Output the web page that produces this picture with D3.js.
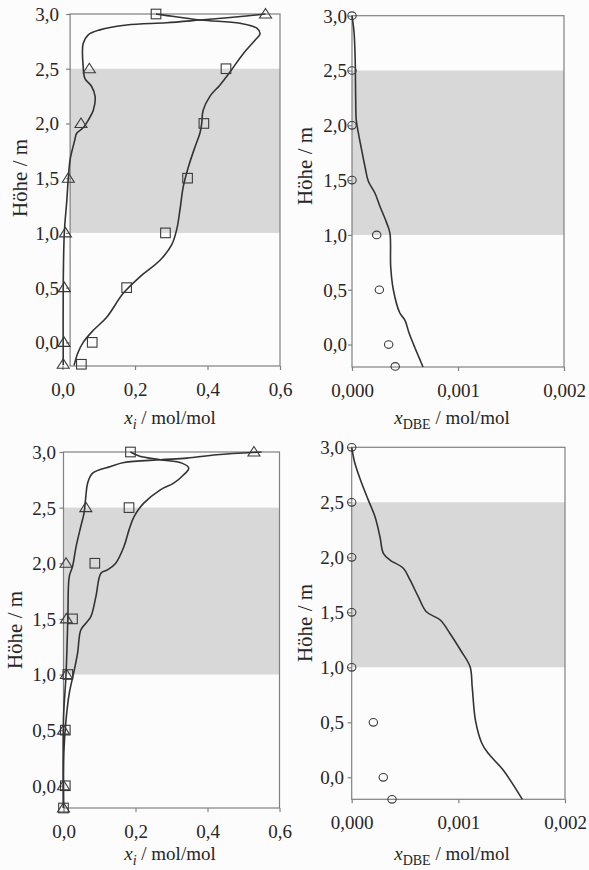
<!DOCTYPE html>
<html><head><meta charset="utf-8">
<script src="https://cdn.jsdelivr.net/npm/d3@7"></script>
<style>
html,body{margin:0;padding:0;background:#fcfcfc;}
svg{display:block;font-family:"Liberation Serif","Tinos","Times New Roman","DejaVu Serif",serif;}
svg text{font-family:"Liberation Serif","Tinos","Times New Roman","DejaVu Serif",serif;}
</style></head><body>
<svg id="chart" width="589" height="870"></svg>
<script>
// ---------- data ----------
const heights = [3.0, 2.5, 2.0, 1.5, 1.0, 0.5, 0.0, -0.2];
const yTickValues = [0, 0.5, 1, 1.5, 2, 2.5, 3];
const yTickLabels = ["0,0", "0,5", "1,0", "1,5", "2,0", "2,5", "3,0"];
const xTickValuesI = [0, 0.2, 0.4, 0.6];
const xTickLabelsI = ["0,0", "0,2", "0,4", "0,6"];
const xTickValuesDBE = [0, 0.001, 0.002];
const xTickLabelsDBE = ["0,000", "0,001", "0,002"];
const reactiveZone = [1.0, 2.5];
const yTitle = "Höhe / m";

// top-left panel
const p1Squares = [0.258, 0.451, 0.390, 0.345, 0.284, 0.177, 0.082, 0.052];
const p1Triangles = [0.560, 0.074, 0.051, 0.016, 0.008, 0.005, 0.004, 0.002];
const p1CurveA = [[0.032,-0.21],[0.042,-0.10],[0.057,0.0],[0.085,0.11],[0.122,0.23],[0.168,0.45],[0.214,0.60],[0.269,0.75],[0.301,0.89],[0.315,1.03],[0.324,1.21],[0.333,1.42],[0.347,1.60],[0.366,1.79],[0.379,1.91],[0.384,2.00],[0.388,2.12],[0.407,2.25],[0.434,2.35],[0.462,2.47],[0.499,2.64],[0.531,2.76],[0.545,2.82],[0.536,2.87],[0.490,2.915],[0.380,2.945],[0.280,2.99],[0.258,3.0]];
const p1CurveB = [[0.002,-0.21],[0.002,0.5],[0.005,1.0],[0.012,1.30],[0.016,1.50],[0.021,1.67],[0.034,1.85],[0.039,1.91],[0.057,1.96],[0.071,2.03],[0.085,2.12],[0.090,2.245],[0.080,2.34],[0.062,2.41],[0.057,2.52],[0.057,2.73],[0.071,2.81],[0.103,2.855],[0.177,2.90],[0.287,2.92],[0.380,2.945],[0.470,2.97],[0.560,3.0]];

// top-right panel
const p2Circles = [0, 0, 0, 0, 0.000233, 0.000258, 0.000346, 0.000408];
const p2Curve = [[0.00067,-0.205],[0.00054,0.10],[0.00050,0.22],[0.00045,0.29],[0.00039,0.50],[0.000365,0.71],[0.000358,1.015],[0.000327,1.11],[0.000264,1.26],[0.000217,1.38],[0.000154,1.49],[0.000123,1.62],[0.00009,1.78],[0.00006,1.93],[0.00004,2.05],[0.000035,2.23],[0.00003,2.60],[0.00002,2.84],[0,3.0]];

// bottom-left panel
const p3Squares = [0.186, 0.182, 0.087, 0.025, 0.012, 0.005, 0.005, 0.0];
const p3Triangles = [0.529, 0.062, 0.007, 0.008, 0.008, 0.0, 0.0, 0.0];
const p3CurveA = [[0.0,-0.2],[0.001,0.3],[0.007,0.59],[0.016,0.83],[0.028,1.01],[0.039,1.19],[0.048,1.40],[0.062,1.46],[0.076,1.52],[0.090,1.70],[0.104,1.91],[0.122,1.94],[0.145,2.00],[0.168,2.15],[0.182,2.30],[0.196,2.42],[0.223,2.54],[0.269,2.66],[0.306,2.72],[0.334,2.795],[0.348,2.855],[0.329,2.90],[0.269,2.93],[0.210,2.965],[0.186,3.0]];
const p3CurveB = [[0.0,-0.2],[0.0,0.6],[0.007,1.0],[0.012,1.49],[0.016,1.88],[0.025,1.97],[0.035,2.15],[0.048,2.33],[0.057,2.45],[0.062,2.60],[0.067,2.72],[0.081,2.81],[0.131,2.87],[0.168,2.905],[0.269,2.93],[0.343,2.945],[0.426,2.975],[0.550,3.0]];

// bottom-right panel
const p4Circles = [0, 0, 0, 0, 0, 0.000203, 0.000296, 0.000378];
const p4Curve = [[0.0016,-0.2],[0.00142,0.066],[0.00128,0.218],[0.00122,0.31],[0.00116,0.52],[0.00113,0.82],[0.00111,1.005],[0.00102,1.157],[0.00092,1.31],[0.00083,1.43],[0.00070,1.505],[0.000625,1.64],[0.000547,1.794],[0.000484,1.90],[0.000359,1.975],[0.000297,2.036],[0.000265,2.187],[0.000218,2.37],[0.000156,2.52],[0.000094,2.673],[0.00003,2.855],[0,3.0]];

// ---------- layout ----------
const FONT = '"Liberation Serif","Tinos","Times New Roman","DejaVu Serif",serif';
const TXT = "#262626";
const FRAME = "#808080";
const INK = "#333";
const BAND = "#d8d8d8";

const panels = [
  {xDom:[0,0.6], xRng:[62.5,280], frameL:0.021, yDom:[-0.216,3], yRng:[366,14],
   xt:xTickValuesI, xl:xTickLabelsI, ylPad:7, kind:"i",
   curves:[p1CurveA,p1CurveB], squares:p1Squares, triangles:p1Triangles,
   yTitle:[26.5,178], xTitle:[170,424]},
  {xDom:[0,0.002], xRng:[352,564], frameL:0, yDom:[-0.205,3], yRng:[367,15.7],
   xt:xTickValuesDBE, xl:xTickLabelsDBE, ylPad:1, kind:"dbe",
   curves:[p2Curve], circles:p2Circles,
   yTitle:[312,166], xTitle:[452,424]},
  {xDom:[0,0.6], xRng:[63.5,279.5], frameL:0, yDom:[-0.2,3], yRng:[808,452],
   xt:xTickValuesI, xl:xTickLabelsI, ylPad:3.5, kind:"i",
   curves:[p3CurveA,p3CurveB], squares:p3Squares, triangles:p3Triangles,
   yTitle:[22,630], xTitle:[170,860]},
  {xDom:[0,0.002], xRng:[351.7,565], frameL:0, yDom:[-0.2,3], yRng:[799.3,447.3],
   xt:xTickValuesDBE, xl:xTickLabelsDBE, ylPad:3.7, kind:"dbe",
   curves:[p4Curve], circles:p4Circles,
   yTitle:[312,623], xTitle:[452,860]}
];

const svg = d3.select("#chart");
svg.append("rect").attr("width",589).attr("height",870).attr("fill","#fcfcfc");

panels.forEach(p => {
  const x = d3.scaleLinear().domain(p.xDom).range(p.xRng);
  const y = d3.scaleLinear().domain(p.yDom).range(p.yRng);
  const g = svg.append("g");
  const left = x(p.frameL), right = x(p.xDom[1]);
  const top = y(3), bottom = y(p.yDom[0]);

  g.append("rect")
    .attr("x", left).attr("y", y(reactiveZone[1]))
    .attr("width", right-left).attr("height", y(reactiveZone[0]) - y(reactiveZone[1]))
    .attr("fill", BAND);

  g.append("rect")
    .attr("x", left).attr("y", top).attr("width", right-left).attr("height", bottom-top)
    .attr("fill","none").attr("stroke",FRAME).attr("stroke-width",1.2);

  const ya = g.append("g").attr("transform",`translate(${left},0)`)
    .call(d3.axisLeft(y).tickValues(yTickValues)
      .tickFormat((d,i)=>yTickLabels[i]).tickSizeInner(4).tickSizeOuter(0).tickPadding(p.ylPad));
  const xa = g.append("g").attr("transform",`translate(0,${bottom})`)
    .call(d3.axisBottom(x).tickValues(p.xt)
      .tickFormat((d,i)=>p.xl[i]).tickSizeInner(4).tickSizeOuter(0).tickPadding(6));
  [ya,xa].forEach(a=>{
    a.attr("font-family",FONT).attr("font-size",19);
    a.select(".domain").remove();
    a.selectAll("line").attr("stroke",FRAME).attr("stroke-width",1.2);
    a.selectAll("text").attr("fill",TXT).attr("font-family",FONT).attr("font-size",19);
  });
  ya.selectAll("text").attr("dy","0.34em");
  xa.selectAll("text").attr("dy",null).attr("y",30);

  const line = d3.line().x(d=>x(d[0])).y(d=>y(d[1])).curve(d3.curveCatmullRom.alpha(0.5));
  p.curves.forEach(c=>{
    g.append("path").attr("d",line(c)).attr("fill","none")
      .attr("stroke",INK).attr("stroke-width",1.6).attr("stroke-linejoin","round");
  });

  if (p.squares) {
    g.selectAll(null).data(p.squares).enter().append("rect")
      .attr("x",(d,i)=>x(d)-4.8).attr("y",(d,i)=>y(heights[i])-4.8)
      .attr("width",9.6).attr("height",9.6)
      .attr("fill","none").attr("stroke","#3a3a3a").attr("stroke-width",1.1);
  }
  if (p.triangles) {
    g.selectAll(null).data(p.triangles).enter().append("path")
      .attr("d",(d,i)=>{const cx=x(d), cy=y(heights[i]);
        return `M${cx},${cy-5.5}L${cx+6},${cy+4}L${cx-6},${cy+4}Z`;})
      .attr("fill","none").attr("stroke","#3a3a3a").attr("stroke-width",1.1);
  }
  if (p.circles) {
    g.selectAll(null).data(p.circles).enter().append("ellipse")
      .attr("cx",d=>x(d)).attr("cy",(d,i)=>y(heights[i]))
      .attr("rx",4.2).attr("ry",3.8)
      .attr("fill","none").attr("stroke","#3a3a3a").attr("stroke-width",1.1);
  }

  svg.append("text")
    .attr("transform",`translate(${p.yTitle[0]},${p.yTitle[1]}) rotate(-90)`)
    .attr("text-anchor","middle").attr("fill",TXT)
    .attr("font-family",FONT).attr("font-size",21).text(yTitle);

  const t = svg.append("text").attr("x",p.xTitle[0]).attr("y",p.xTitle[1])
    .attr("text-anchor","middle").attr("fill",TXT)
    .attr("font-family",FONT).attr("font-size",19);
  t.append("tspan").attr("font-style","italic").text("x");
  if (p.kind==="i") {
    t.append("tspan").attr("font-style","italic").attr("font-size",14).attr("dy",5).text("i");
    t.append("tspan").attr("dy",-5).text(" / mol/mol");
  } else {
    t.append("tspan").attr("font-size",14).attr("dy",5).text("DBE");
    t.append("tspan").attr("dy",-5).text(" / mol/mol");
  }
});
</script>
</body></html>
